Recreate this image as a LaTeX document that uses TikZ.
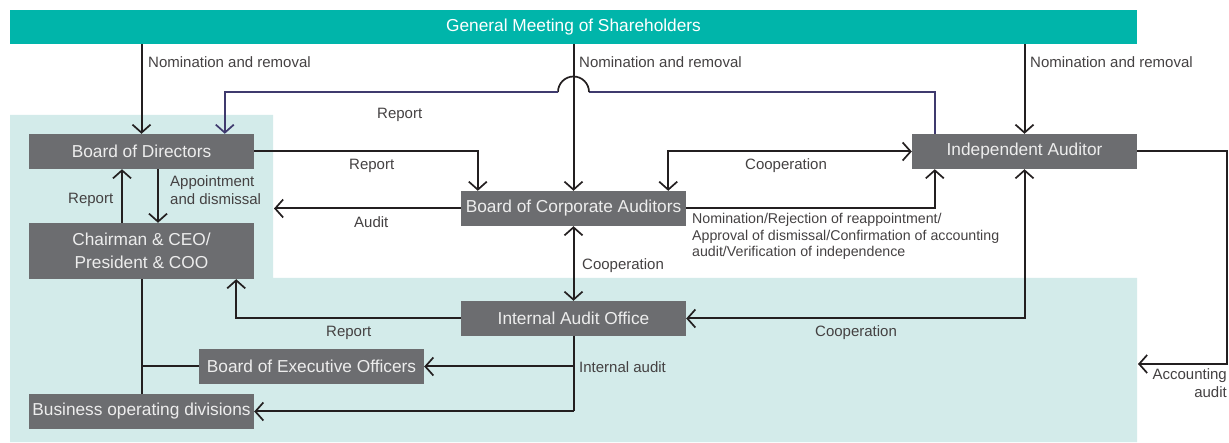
\documentclass[tikz,border=0pt]{standalone}
\usepackage{fontspec}
\setmainfont{Liberation Sans}
\usetikzlibrary{arrows.meta,calc}
\definecolor{teal1}{HTML}{00B5AA}
\definecolor{lightbg}{HTML}{D3EBEA}
\definecolor{boxgray}{HTML}{6C6D70}
\definecolor{boxtext}{HTML}{EDEDED}
\definecolor{ink}{HTML}{231F20}
\definecolor{navy}{HTML}{3F3A6E}
\tikzset{
  box/.style={fill=boxgray,text=boxtext,minimum width=225pt,minimum height=35pt,inner sep=0pt,
    font=\fontsize{17.3}{23}\selectfont,align=center},
  lbl/.style={text=ink!85,font=\fontsize{15}{18}\selectfont,inner sep=0pt,yshift=-1.5pt},
  smalllbl/.style={text=ink!85,font=\fontsize{14.2}{16.5}\selectfont,inner sep=0pt,align=left},
  conn/.style={draw=ink,line width=2pt,>={Straight Barb[length=8pt,width=18pt,line width=1.7pt]}},
  bconn/.style={draw=navy,line width=1.7pt,>={Straight Barb[length=8pt,width=18pt,line width=1.7pt]}},
}
\begin{document}
\begin{tikzpicture}[x=1pt,y=-1pt]
\useasboundingbox (0,0) rectangle (1229,443);
% light background region
\fill[lightbg] (10,115) -- (273,115) -- (273,278) -- (1137,278) -- (1137,442) -- (10,442) -- cycle;
% top bar
\node[fill=teal1,text=white,minimum width=1127pt,minimum height=34pt,inner sep=0pt,
  font=\fontsize{17.3}{21}\selectfont] (gm) at (573.5,27) {General Meeting of Shareholders};
% boxes
\node[box] (bod) at (141.5,151.5) {Board of Directors};
\node[box,minimum height=56pt] (ceo) at (141.5,251) {Chairman \& CEO/\\President \& COO};
\node[box] (bca) at (573.5,208.5) {Board of Corporate Auditors};
\node[box] (ia) at (1024.5,151.5) {Independent Auditor};
\node[box] (iao) at (573.5,318.5) {Internal Audit Office};
\node[box] (beo) at (311.5,366.5) {Board of Executive Officers};
\node[box] (bus) at (141.5,411.5) {Business operating divisions};
% coordinates
\coordinate (jr) at (589,92);
\coordinate (jl) at (558,92);
\coordinate (auditend) at (274,208.5);
\coordinate (accend) at (1138,364);
% nominations
\draw[conn,->] (bod.north |- gm.south) -- (bod.north);
\draw[conn,->] (bca.north |- gm.south) -- (bca.north);
\draw[conn,->] (ia.north |- gm.south) -- (ia.north);
% blue report line with jump
\draw[bconn] ([xshift=23pt]ia.north west) |- (jr);
\draw[conn,line width=1.7pt] (jr) arc (0:-180:15.5);
\draw[bconn,->] (jl) -| ([xshift=196pt]bod.north west);
% BoD -> BCA
\draw[conn,->] (bod.east) -| ([xshift=17pt]bca.north west);
% BCA <-> IA
\draw[conn,<->] ([xshift=-18pt]bca.north east) |- (ia.west);
% BCA -> BoD audit
\draw[conn,->] (bca.west) -- (auditend);
% BCA -> IA
\draw[conn,->] (bca.east) -| ([xshift=23pt]ia.south west);
% BoD <-> CEO
\draw[conn,->] ([xshift=-19.5pt]ceo.north) -- ([xshift=-19.5pt]bod.south);
\draw[conn,->] ([xshift=16.5pt]bod.south) -- ([xshift=16.5pt]ceo.north);
% BCA <-> IAO
\draw[conn,<->] (bca.south) -- (iao.north);
% IAO -> CEO
\draw[conn,->] (iao.west) -| ([xshift=-18pt]ceo.south east);
% IA <-> IAO
\draw[conn,<->] (ia.south) |- (iao.east);
% internal audit
\draw[conn] (iao.south) -- (iao.south |- bus.east);
\draw[conn,->] (iao.south |- beo.east) -- (beo.east);
\draw[conn,->] (iao.south |- bus.east) -- (bus.east);
% CEO lines
\draw[conn] (ceo.south) -- (bus.north);
\draw[conn] (ceo.south |- beo.west) -- (beo.west);
% accounting audit
\draw[conn,->] (ia.east) -| (1227,364) -- (accend);
% labels
\node[lbl,anchor=west] (l1) at (148,61) {Nomination and removal};
\node[lbl,anchor=west] (l2) at (579,61) {Nomination and removal};
\node[lbl,anchor=west] (l3) at (1030,61) {Nomination and removal};
\node[lbl,anchor=west] (l4) at (377,113) {Report};
\node[lbl,anchor=west] (l5) at (349,164) {Report};
\node[lbl,anchor=west] (l6) at (354,221) {Audit};
\node[lbl,anchor=west] (l7) at (68,198) {Report};
\node[lbl,anchor=north west,align=left] (l8) at (170,174) {Appointment\\and dismissal};
\node[lbl,anchor=west] (l9) at (745,164) {Cooperation};
\node[lbl,anchor=west] (l10) at (582,264) {Cooperation};
\node[lbl,anchor=west] (l11) at (326,331) {Report};
\node[lbl,anchor=west] (l12) at (815,331) {Cooperation};
\node[lbl,anchor=west] (l13) at (579,366) {Internal audit};
\node[lbl,anchor=north east,align=right] (l14) at (1227,367) {Accounting\\audit};
\node[smalllbl,anchor=north west] (l15) at (692,213.5) {Nomination/Rejection of reappointment/\\Approval of dismissal/Confirmation of accounting\\audit/Verification of independence};
\end{tikzpicture}
\end{document}
